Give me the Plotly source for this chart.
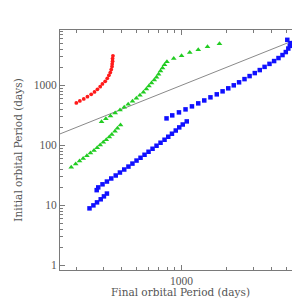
import plotly.graph_objects as go

# Red series (final period, initial period) in days
red_final = [199, 210, 223, 236, 250, 263, 275, 287, 297, 310, 320, 328, 335, 340, 344, 345, 347, 347, 349]
red_initial = [508, 549, 593, 648, 708, 776, 858, 951, 1055, 1166, 1309, 1469, 1630, 1829, 2052, 2276, 2517, 2793, 3097]

# Green series, lower branch
green_lo_final = [184, 197, 209, 221, 234, 247, 261, 274, 287, 301, 315, 330, 343, 360, 374, 392]
green_lo_initial = [43.3, 48.6, 54.6, 60.3, 67, 74.3, 82, 91, 101, 112, 124, 137, 152, 171, 192, 218]

# Green series, upper branch
green_hi_final = [293, 313, 336, 361, 389, 415, 441, 471, 500, 528, 557, 583, 606, 631, 658, 681,
                  703, 724, 747, 770, 799, 887, 1000, 1134, 1292, 1489, 1789]
green_hi_initial = [248, 278, 308, 346, 388, 429, 485, 541, 607, 681, 770, 871, 977, 1097, 1231, 1360,
                    1527, 1740, 1953, 2192, 2460, 2792, 3097, 3516, 3917, 4395, 4932]

# Blue series, three branches
blue_a_final = [243.6, 258.6, 273.3, 289.3, 303.9, 318.2]
blue_a_initial = [8.9, 9.98, 11.2, 12.6, 14.1, 15.7]

blue_b_final = [272, 278.5, 297.4, 318.2, 340, 364.2, 388.5, 415, 442.6, 470.7, 501.2, 532.9, 566.7,
                602.6, 640.8, 681.3, 724.4, 770.3, 815.4, 863, 915, 965.3, 1018.6, 1083]
blue_b_initial = [17.9, 19.9, 22.4, 24.9, 28.0, 31.4, 35.2, 39.5, 44.2, 49.6, 55.7, 62.0, 69.6,
                  78.1, 87.6, 98.4, 110.4, 123.9, 139, 156.1, 176.5, 198.9, 222.3, 250.4]

blue_c_final = [794.3, 866.9, 961, 1063, 1173, 1292, 1417, 1558, 1717, 1877, 2048, 2228, 2417, 2627,
                2841, 3076, 3321, 3575, 3855, 4138, 4426, 4707, 4951, 5145, 5265, 5321, 5066]
blue_c_initial = [281.1, 315.5, 354, 397.3, 446, 500.4, 559.6, 630.4, 707.4, 793.9, 891, 1000, 1122, 1269,
                  1425, 1599, 1795, 2029, 2277, 2537, 2847, 3194, 3585, 4102, 4551, 5048, 5731]

# Reference line: initial = final
line_x = [150, 6400]
line_y = [150, 6400]

x_tickvals = [1000]
x_ticktext = ["1000"]
x_minor = [200, 300, 400, 500, 600, 700, 800, 900, 2000, 3000, 4000, 5000, 6000]
y_tickvals = [1, 10, 100, 1000]
y_ticktext = ["1", "10", "100", "1000"]
y_minor = [2, 3, 4, 5, 6, 7, 8, 9, 20, 30, 40, 50, 60, 70, 80, 90,
           200, 300, 400, 500, 600, 700, 800, 900, 2000, 3000, 4000, 5000, 6000, 7000, 8000]

FONT = "Liberation Serif"
TFONT = "DejaVu Serif"
AXC = "#7a7a7a"
TXT = "#555555"

fig = go.Figure()
fig.add_trace(go.Scatter(x=line_x, y=line_y, mode="lines",
                         line=dict(color="#8a8a8a", width=1), showlegend=False))
fig.add_trace(go.Scatter(x=red_final, y=red_initial, mode="markers",
                         marker=dict(symbol="circle", size=3.8, color="#ff1a1a"), showlegend=False))
for xs, ys in [(green_lo_final, green_lo_initial), (green_hi_final, green_hi_initial)]:
    fig.add_trace(go.Scatter(x=xs, y=ys, mode="markers",
                             marker=dict(symbol="triangle-up", size=5, color="#22cc22"), showlegend=False))
for xs, ys in [(blue_a_final, blue_a_initial), (blue_b_final, blue_b_initial), (blue_c_final, blue_c_initial)]:
    fig.add_trace(go.Scatter(x=xs, y=ys, mode="markers",
                             marker=dict(symbol="square", size=4.5, color="#1010ff"), showlegend=False))

fig.update_layout(
    width=300, height=300,
    margin=dict(l=52, r=7, t=22, b=38),
    paper_bgcolor="white", plot_bgcolor="white",
    font=dict(family=FONT, size=11.5, color=TXT),
    xaxis=dict(type="log", range=[2.19, 3.796], showgrid=False, zeroline=False,
               showline=True, linecolor=AXC, linewidth=1, mirror="ticks",
               ticks="inside", ticklen=5, tickcolor=AXC,
               tickvals=x_tickvals, ticktext=x_ticktext,
               minor=dict(tickvals=x_minor, ticks="inside", ticklen=3, tickcolor=AXC)),
    yaxis=dict(type="log", range=[-0.078, 3.922], showgrid=False, zeroline=False,
               showline=True, linecolor=AXC, linewidth=1, mirror="ticks",
               ticks="inside", ticklen=5, tickcolor=AXC,
               tickvals=y_tickvals, ticktext=y_ticktext,
               minor=dict(tickvals=y_minor, ticks="inside", ticklen=3, tickcolor=AXC),
               title=dict(text="Initial orbital Period (days)", standoff=9,
                          font=dict(family=TFONT, size=10.5, color=TXT))),
    annotations=[dict(text="Final orbital Period (days)", xref="paper", yref="paper",
                      x=0.5, y=0, xanchor="center", yanchor="top", yshift=-14,
                      showarrow=False, font=dict(family=TFONT, size=10.5, color=TXT))],
)
fig.write_html("out.html")
